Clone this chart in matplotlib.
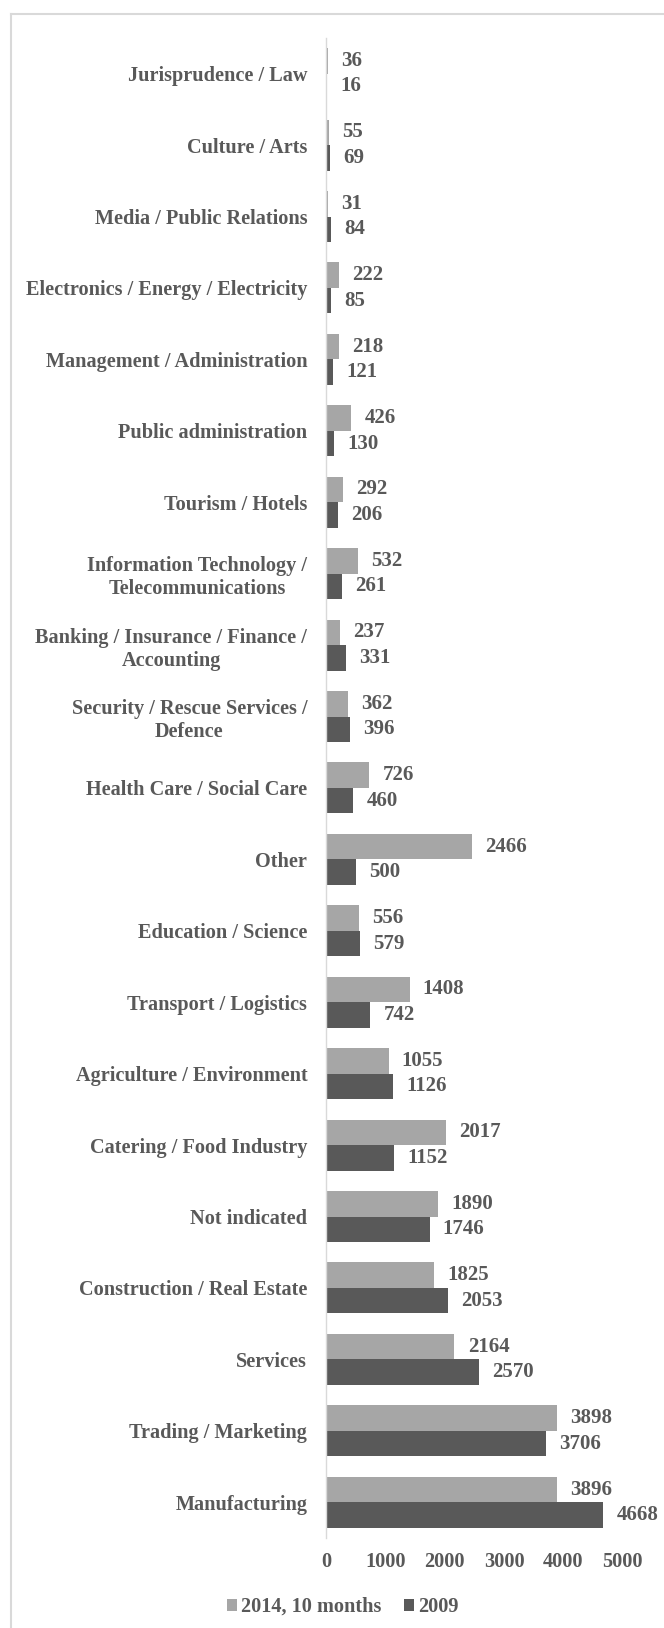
import matplotlib
matplotlib.use("Agg")
import matplotlib.pyplot as plt
from matplotlib.lines import Line2D
import numpy as np

categories = [
    "Jurisprudence / Law",
    "Culture / Arts",
    "Media / Public Relations",
    "Electronics / Energy / Electricity",
    "Management / Administration",
    "Public administration",
    "Tourism / Hotels",
    "Information Technology /\nTelecommunications",
    "Banking / Insurance / Finance /\nAccounting",
    "Security / Rescue Services /\nDefence",
    "Health Care / Social Care",
    "Other",
    "Education / Science",
    "Transport / Logistics",
    "Agriculture / Environment",
    "Catering / Food Industry",
    "Not indicated",
    "Construction / Real Estate",
    "Services",
    "Trading / Marketing",
    "Manufacturing",
]
values_2014 = [36, 55, 31, 222, 218, 426, 292, 532, 237, 362, 726, 2466,
               556, 1408, 1055, 2017, 1890, 1825, 2164, 3898, 3896]
values_2009 = [16, 69, 84, 85, 121, 130, 206, 261, 331, 396, 460, 500,
               579, 742, 1126, 1152, 1746, 2053, 2570, 3706, 4668]
series_names = ["2014, 10 months", "2009"]
x_ticks = [0, 1000, 2000, 3000, 4000, 5000]

TEXT = "#595959"
LIGHT = "#A6A6A6"
DARK = "#595959"
GRID = "#D9D9D9"

plt.rcParams["font.family"] = ["Liberation Serif", "DejaVu Serif"]
plt.rcParams["font.weight"] = "bold"
FS = 14.6

fig = plt.figure(figsize=(6.64, 16.28), dpi=100)
ax = fig.add_axes([0.491, 0.0553, 0.938 - 0.491, 0.9767 - 0.0553])

y = np.arange(len(categories))
h = 0.357
b1 = ax.barh(y - h / 2, values_2014, height=h, color=LIGHT, label=series_names[0])
b2 = ax.barh(y + h / 2, values_2009, height=h, color=DARK, label=series_names[1])

for bars, vals in ((b1, values_2014), (b2, values_2009)):
    for rect, v in zip(bars, vals):
        ax.annotate(f"{v}", xy=(v, rect.get_y() + rect.get_height() / 2),
                    xytext=(9.5, 0), textcoords="offset points",
                    ha="left", va="center", fontsize=FS + 0.4, fontweight="bold",
                    color=TEXT)

ax.set_ylim(len(categories) - 0.5, -0.5)
ax.set_xlim(0, 5000)
ax.set_xticks(x_ticks)
ax.set_xticklabels([str(t) for t in x_ticks])
ax.set_yticks(y)
ax.set_yticklabels(categories, multialignment="center")
ax.tick_params(axis="both", length=0, labelsize=FS, labelcolor=TEXT)
ax.tick_params(axis="y", pad=13.5)
ax.tick_params(axis="x", pad=10)
for lbl in ax.get_xticklabels() + ax.get_yticklabels():
    lbl.set_fontweight("bold")

for side in ("top", "right", "bottom"):
    ax.spines[side].set_visible(False)
ax.spines["left"].set_color(GRID)
ax.spines["left"].set_linewidth(1.0)

leg = fig.legend(handles=[b1, b2], labels=series_names, loc="center",
                 bbox_to_anchor=(0.5166, 0.0129), ncol=2, frameon=False,
                 fontsize=FS, handlelength=0.5, handleheight=0.5,
                 handletextpad=0.2, columnspacing=1.1, borderpad=0)
for t in leg.get_texts():
    t.set_color(TEXT)
    t.set_fontweight("bold")

# light frame along the top and left edges
W, H = 664, 1628
fig.add_artist(Line2D([11 / W, 11 / W], [0, 1 - 14 / H], transform=fig.transFigure,
                      color=GRID, linewidth=1.5))
fig.add_artist(Line2D([11 / W, 1], [1 - 14 / H, 1 - 14 / H], transform=fig.transFigure,
                      color=GRID, linewidth=1.5))

fig.savefig("out.png", dpi=100, facecolor="white")
